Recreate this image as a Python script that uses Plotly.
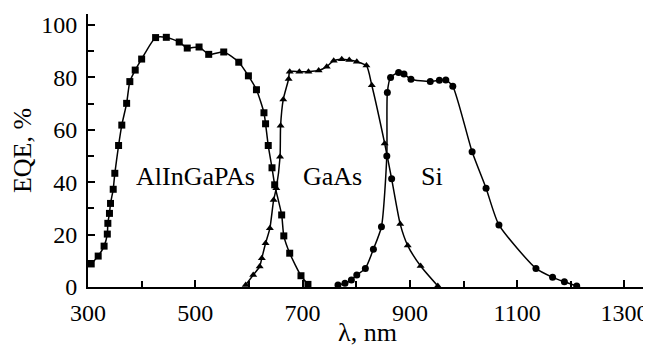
import plotly.graph_objects as go

# AlInGaPAs (squares)
alingapas_wl = [306, 319, 330, 336, 337, 340, 342, 347, 350, 357, 363, 372, 378, 388, 400,
                426, 446, 470, 485, 507, 525, 553, 581, 599, 614, 628, 631, 636, 643, 648,
                661, 665, 676, 697, 710]
alingapas_eqe = [8.8, 11.8, 15.6, 20.2, 24.3, 28.1, 31.9, 37.3, 43.4, 54.0, 61.8, 70.1, 78.4, 82.8, 87.0,
                 95.2, 95.3, 93.5, 91.2, 91.6, 88.8, 89.7, 85.8, 80.6, 75.3, 66.5, 62.3, 54.0, 45.5, 39.0,
                 27.5, 19.5, 12.9, 4.3, 1.0]

# GaAs (triangles; one point drawn as a circle in the original)
gaas_wl = [594, 608, 620, 624, 631, 639, 646, 651, 658, 659, 664, 674, 676, 694, 711, 730,
           745, 758, 773, 787, 801, 819, 829, 853, 866, 882, 896, 920, 952]
gaas_eqe = [0.8, 4.6, 7.8, 11.0, 16.7, 22.4, 33.2, 37.7, 49.7, 61.5, 71.6, 79.4, 82.2, 82.2, 82.2, 82.6,
            84.1, 86.4, 86.9, 86.6, 86.0, 84.5, 77.0, 54.8, 41.3, 24.0, 15.8, 8.0, 0.4]
gaas_symbols = ["triangle-up"] * 24 + ["circle"] + ["triangle-up"] * 4

# Si (circles)
si_wl = [766, 779, 791, 801, 817, 832, 847, 857, 858, 864, 879, 889, 902, 938, 955, 967, 980,
         1016, 1042, 1066, 1135, 1166, 1188, 1211]
si_eqe = [0.8, 1.4, 2.7, 4.6, 7.1, 14.4, 23.0, 50.0, 74.2, 80.0, 81.9, 81.3, 79.3, 78.4, 78.9, 79.0, 76.6,
          51.6, 37.7, 23.7, 7.1, 3.7, 2.0, 0.4]

labels = ["AlInGaPAs", "GaAs", "Si"]
label_wl = [500, 755, 942]
label_eqe = [42, 42, 42]

x_ticks = [300, 500, 700, 900, 1100, 1300]
y_ticks = [0, 20, 40, 60, 80, 100]

FONT = "'Liberation Serif', 'Times New Roman', serif"
FS = 24
FS_T = 26

fig = go.Figure()
line = dict(color="black", width=1.5, shape="spline", smoothing=0.6)
fig.add_trace(go.Scatter(x=alingapas_wl, y=alingapas_eqe, mode="lines+markers",
                         line=line, marker=dict(symbol="square", size=7, color="black")))
fig.add_trace(go.Scatter(x=gaas_wl, y=gaas_eqe, mode="lines+markers",
                         line=line, marker=dict(symbol=gaas_symbols, size=7, color="black")))
fig.add_trace(go.Scatter(x=si_wl, y=si_eqe, mode="lines+markers",
                         line=line, marker=dict(symbol="circle", size=7, color="black")))

for t, xw, ye in zip(labels, label_wl, label_eqe):
    fig.add_annotation(x=xw, y=ye, text=t, showarrow=False,
                       font=dict(family=FONT, size=FS_T, color="black"))

# the page body adds an 8 px margin, so the figure is sized to fit inside it
fig.update_layout(
    width=643, height=339,
    margin=dict(l=80, r=4, t=6, b=60),
    paper_bgcolor="white", plot_bgcolor="white",
    showlegend=False,
    font=dict(family=FONT, size=FS, color="black"),
)
fig.update_xaxes(
    range=[300, 1342], tickvals=x_ticks, ticktext=[str(v) for v in x_ticks],
    automargin=False,
    showline=True, linecolor="black", linewidth=2, showgrid=False, zeroline=False,
    ticks="inside", ticklen=7, tickwidth=1.5, tickcolor="black",
    minor=dict(ticks="inside", dtick=100, tick0=300, ticklen=6, tickwidth=1.5, tickcolor="black", showgrid=False),
    ticklabelstandoff=3,
    title=dict(text="λ, nm", standoff=0, font=dict(family=FONT, size=FS_T)),
    tickfont=dict(family=FONT, size=FS),
)
fig.update_yaxes(
    range=[0, 104.2], tickvals=y_ticks, ticktext=[str(v) for v in y_ticks],
    automargin=False,
    showline=True, linecolor="black", linewidth=2, showgrid=False, zeroline=False,
    ticks="inside", ticklen=7, tickwidth=1.5, tickcolor="black",
    minor=dict(ticks="inside", dtick=10, tick0=0, ticklen=6, tickwidth=1.5, tickcolor="black", showgrid=False),
    ticklabelstandoff=4,
    title=dict(text="EQE, %", standoff=2, font=dict(family=FONT, size=FS_T)),
    tickfont=dict(family=FONT, size=FS),
)

fig.write_html("out.html")
